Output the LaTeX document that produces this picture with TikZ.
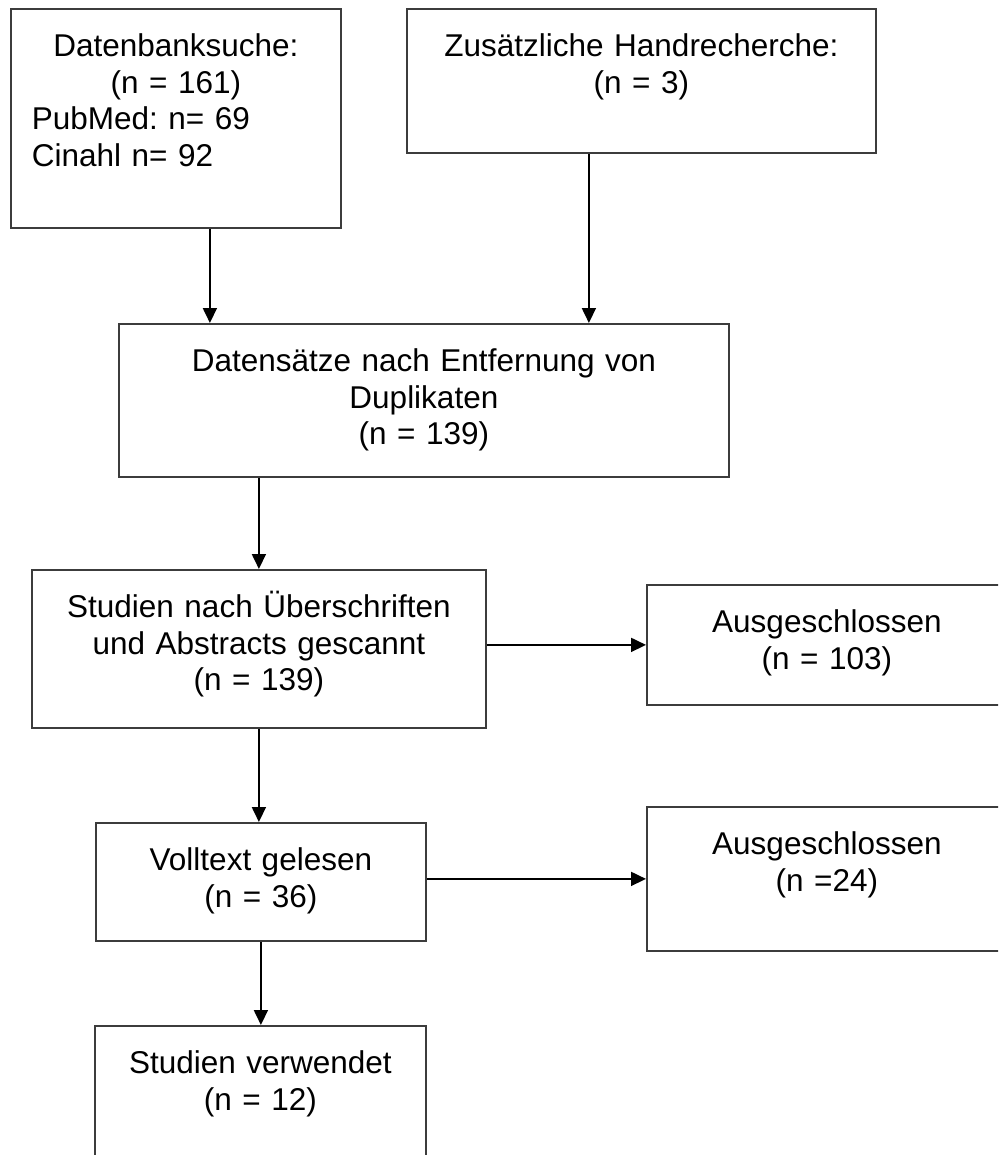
\documentclass[tikz,border=0pt]{standalone}
\usepackage{fontspec}
\setmainfont{Liberation Sans}
\frenchspacing
\usetikzlibrary{arrows.meta}
\definecolor{framegray}{RGB}{60,60,60}

\begin{document}
\begin{tikzpicture}[x=1pt,y=1pt,
  box/.style 2 args={draw=framegray, line width=1.8pt, anchor=north west, inner sep=0pt,
    text width=#1, align=center, text height=48pt, text depth=#2,
    font=\fontsize{31.5}{36.5}\selectfont},
  arr/.style={line width=1.8pt, -{Triangle[length=15pt,width=14pt]}}]
\clip (0,0) rectangle (998,-1155);
% boxes: top left corner, width, depth below first baseline
\node[box={330pt}{171pt}] (dbs) at (10,-8) {Datenbanksuche:\\(n = 161)\\
  \makebox[288pt][l]{PubMed: n= 69}\\\makebox[288pt][l]{Cinahl n= 92}};
\node[box={469pt}{96pt}] (hand) at (406,-8) {Zusätzliche Handrecherche:\\(n = 3)};
\node[box={610pt}{105pt}] (dup) at (118,-323) {Datensätze nach Entfernung von\\Duplikaten\\(n = 139)};
\node[box={454pt}{110pt}] (scan) at (31,-569) {Studien nach Überschriften\\und Abstracts gescannt\\(n = 139)};
\node[box={360pt}{72pt}] (excl1) at (646,-584) {Ausgeschlossen\\(n = 103)};
\node[box={330pt}{70pt}] (full) at (95,-822) {Volltext gelesen\\(n = 36)};
\node[box={360pt}{96pt}] (excl2) at (646,-806) {Ausgeschlossen\\(n =24)};
\node[box={331pt}{97pt}] (used) at (94,-1025) {Studien verwendet\\(n = 12)};
% arrows
\draw[arr] ([xshift=34pt]dbs.south) -- ([xshift=34pt]dbs.south |- dup.north);
\draw[arr] ([xshift=-52.5pt]hand.south) -- ([xshift=-52.5pt]hand.south |- dup.north);
\draw[arr] (scan.north |- dup.south) -- (scan.north);
\draw[arr] (scan.south) -- (scan.south |- full.north);
\draw[arr] (full.south) -- (full.south |- used.north);
\draw[arr] (scan.east |- excl1.west) -- (excl1.west);
\draw[arr] (full.east |- excl2.west) -- (excl2.west);
\end{tikzpicture}
\end{document}
